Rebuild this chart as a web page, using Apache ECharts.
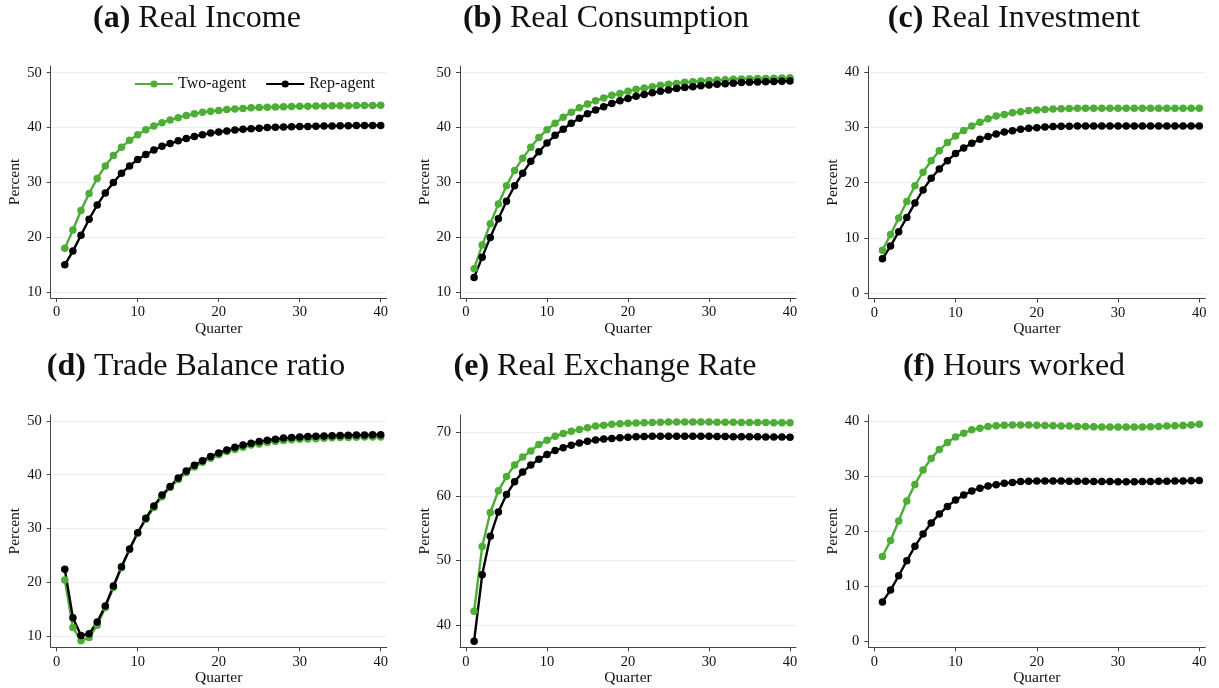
<!DOCTYPE html>
<html><head><meta charset="utf-8">
<script src="https://cdn.jsdelivr.net/npm/echarts@6/dist/echarts.min.js"></script>
<style>html,body{margin:0;padding:0;background:#fff}#c{width:1219px;height:688px}</style>
</head><body><div id="c"></div>
<script>
const quarters = [1,2,3,4,5,6,7,8,9,10,11,12,13,14,15,16,17,18,19,20,21,22,23,24,25,26,27,28,29,30,31,32,33,34,35,36,37,38,39,40];
const seriesNames = ['Two-agent', 'Rep-agent'];
const panelTitles = [['(a)', 'Real Income'], ['(b)', 'Real Consumption'], ['(c)', 'Real Investment'],
                     ['(d)', 'Trade Balance ratio'], ['(e)', 'Real Exchange Rate'], ['(f)', 'Hours worked']];
const xTicks = [0, 10, 20, 30, 40];
const yTicksA = [10, 20, 30, 40, 50];
const yTicksB = [10, 20, 30, 40, 50];
const yTicksC = [0, 10, 20, 30, 40];
const yTicksD = [10, 20, 30, 40, 50];
const yTicksE = [40, 50, 60, 70];
const yTicksF = [0, 10, 20, 30, 40];

const incomeTwo = [18.0,21.35,24.9,28.0,30.75,33.0,34.9,36.4,37.7,38.7,39.6,40.3,40.9,41.4,41.8,42.2,42.5,42.8,43.0,43.1,43.3,43.4,43.5,43.6,43.65,43.7,43.75,43.8,43.85,43.9,43.9,43.93,43.95,43.97,44.0,44.0,44.02,44.03,44.04,44.05];
const incomeRep = [15.0,17.5,20.4,23.3,25.9,28.1,30.0,31.7,33.0,34.2,35.1,35.9,36.6,37.1,37.6,38.0,38.4,38.7,39.0,39.2,39.4,39.55,39.7,39.8,39.9,40.0,40.05,40.1,40.15,40.2,40.22,40.25,40.28,40.3,40.32,40.34,40.36,40.37,40.38,40.4];
const consTwo = [14.3,18.6,22.5,26.1,29.4,32.2,34.4,36.4,38.2,39.6,40.8,41.9,42.8,43.6,44.3,44.9,45.4,45.9,46.2,46.6,47.0,47.2,47.45,47.7,47.9,48.05,48.25,48.35,48.5,48.6,48.65,48.7,48.8,48.85,48.9,48.93,48.96,49.0,49.03,49.06];
const consRep = [12.7,16.4,20.0,23.4,26.6,29.4,31.7,33.85,35.6,37.2,38.6,39.7,40.8,41.7,42.5,43.2,43.8,44.4,44.9,45.3,45.7,46.05,46.35,46.6,46.85,47.1,47.3,47.45,47.6,47.75,47.9,48.0,48.1,48.2,48.25,48.3,48.35,48.4,48.45,48.5];
const invTwo = [7.75,10.6,13.6,16.6,19.45,21.9,24.0,25.8,27.3,28.5,29.5,30.3,31.0,31.6,32.1,32.4,32.7,32.9,33.1,33.2,33.3,33.4,33.45,33.47,33.5,33.5,33.5,33.5,33.5,33.5,33.5,33.5,33.5,33.5,33.5,33.5,33.5,33.5,33.5,33.5];
const invRep = [6.2,8.5,11.1,13.7,16.3,18.7,20.8,22.5,24.0,25.3,26.3,27.15,27.9,28.4,28.85,29.2,29.45,29.7,29.9,30.0,30.1,30.2,30.25,30.27,30.3,30.3,30.3,30.3,30.3,30.3,30.3,30.3,30.3,30.3,30.3,30.3,30.3,30.3,30.3,30.3];
const tbTwo = [20.4,11.6,9.1,9.7,12.0,15.3,19.0,22.7,26.1,29.1,31.7,33.9,35.9,37.6,39.1,40.4,41.45,42.3,43.05,43.7,44.3,44.7,45.1,45.5,45.7,46.0,46.15,46.35,46.5,46.6,46.65,46.7,46.78,46.85,46.9,46.93,46.96,47.0,47.0,47.02];
const tbRep = [22.4,13.4,10.1,10.4,12.6,15.6,19.3,22.9,26.2,29.2,31.9,34.2,36.2,37.8,39.4,40.7,41.75,42.6,43.4,44.05,44.6,45.1,45.5,45.85,46.15,46.4,46.6,46.8,46.9,47.0,47.1,47.15,47.2,47.25,47.3,47.33,47.36,47.4,47.42,47.45];
const rerTwo = [42.1,52.2,57.5,60.9,63.1,64.9,66.15,67.1,68.1,68.75,69.4,69.8,70.15,70.45,70.7,71.0,71.1,71.25,71.35,71.4,71.45,71.5,71.55,71.57,71.6,71.6,71.6,71.6,71.6,71.6,71.58,71.57,71.56,71.55,71.54,71.53,71.52,71.51,71.5,71.5];
const rerRep = [37.45,47.8,53.8,57.6,60.3,62.3,63.8,64.9,65.8,66.55,67.15,67.6,68.0,68.35,68.6,68.8,68.95,69.05,69.15,69.25,69.3,69.35,69.37,69.4,69.4,69.4,69.4,69.4,69.4,69.38,69.36,69.35,69.33,69.32,69.3,69.3,69.29,69.28,69.27,69.25];
const hoursTwo = [15.4,18.3,21.85,25.5,28.5,31.1,33.2,34.85,36.1,37.1,37.8,38.4,38.7,39.0,39.15,39.25,39.3,39.3,39.27,39.22,39.18,39.15,39.12,39.08,39.02,38.99,38.96,38.93,38.9,38.9,38.9,38.93,38.93,38.96,39.02,39.08,39.14,39.2,39.3,39.4];
const hoursRep = [7.15,9.3,11.9,14.65,17.25,19.5,21.5,23.1,24.5,25.65,26.55,27.3,27.8,28.2,28.45,28.7,28.85,29.0,29.05,29.1,29.1,29.1,29.1,29.08,29.05,29.05,29.02,29.0,29.0,28.98,28.98,28.98,29.0,29.0,29.05,29.08,29.1,29.13,29.16,29.2];

const panelData = [
  [incomeTwo, incomeRep, yTicksA],
  [consTwo, consRep, yTicksB],
  [invTwo, invRep, yTicksC],
  [tbTwo, tbRep, yTicksD],
  [rerTwo, rerRep, yTicksE],
  [hoursTwo, hoursRep, yTicksF]
];

// layout (pixels) and axis extents
const layout = [
  {left: 50.7, top: 66, width: 336, height: 232, ymin: 8.96, ymax: 51.22, tx: 197, ty: 19},
  {left: 460, top: 66, width: 336, height: 232, ymin: 8.96, ymax: 51.22, tx: 606, ty: 19},
  {left: 868.3, top: 66.5, width: 337, height: 232, ymin: -1.02, ymax: 41.1, tx: 1014, ty: 19},
  {left: 50.7, top: 415, width: 336, height: 232.3, ymin: 7.9, ymax: 51.1, tx: 196, ty: 367},
  {left: 460, top: 415, width: 336, height: 232.3, ymin: 36.5, ymax: 72.7, tx: 605, ty: 367},
  {left: 868.3, top: 415, width: 337, height: 232.3, ymin: -1.09, ymax: 41.1, tx: 1014, ty: 367}
];

const FONT = '"Liberation Serif", "Times New Roman", serif';
const GREEN = '#4dad36';
const BLACK = '#000000';
const AXIS = '#444444';
const GRIDC = '#e9efef';

const grids = [], xAxes = [], yAxes = [], series = [], graphics = [];
layout.forEach((L, i) => {
  const [two, rep, yTicks] = panelData[i];
  grids.push({left: L.left, top: L.top, width: L.width, height: L.height, containLabel: false});
  xAxes.push({
    type: 'value', gridIndex: i, min: -0.74, max: 40.74,
    name: 'Quarter', nameLocation: 'middle', nameGap: 20,
    nameTextStyle: {fontFamily: FONT, fontSize: 15.5, color: '#111'},
    axisLine: {show: true, onZero: false, lineStyle: {color: AXIS, width: 1}},
    axisTick: {show: true, inside: false, length: 4, customValues: xTicks, lineStyle: {color: AXIS}},
    axisLabel: {show: true, margin: 7, customValues: xTicks, fontFamily: FONT, fontSize: 14.5, color: '#111'},
    splitLine: {show: false}
  });
  yAxes.push({
    type: 'value', gridIndex: i, min: L.ymin, max: L.ymax,
    name: 'Percent', nameLocation: 'middle', nameGap: 27, nameRotate: 90,
    nameTextStyle: {fontFamily: FONT, fontSize: 15.5, color: '#111'},
    axisLine: {show: true, onZero: false, lineStyle: {color: AXIS, width: 1}},
    axisTick: {show: true, inside: false, length: 4, customValues: yTicks, lineStyle: {color: AXIS}},
    axisLabel: {show: true, margin: 9, customValues: yTicks, fontFamily: FONT, fontSize: 14.5, color: '#111'},
    splitLine: {show: true, lineStyle: {color: GRIDC, width: 1}}
  });
  [[two, seriesNames[0], GREEN], [rep, seriesNames[1], BLACK]].forEach(([arr, name, col]) => {
    series.push({
      type: 'line', name: name, xAxisIndex: i, yAxisIndex: i,
      data: quarters.map((q, k) => [q, arr[k]]),
      symbol: 'circle', symbolSize: 7.5, showSymbol: true,
      lineStyle: {color: col, width: 2.4},
      itemStyle: {color: col, borderWidth: 0},
      emphasis: {disabled: true}
    });
  });
  graphics.push({
    type: 'text', x: L.tx, y: L.ty,
    style: {
      text: '{b|' + panelTitles[i][0] + '} ' + panelTitles[i][1],
      align: 'center', verticalAlign: 'middle',
      fontFamily: FONT, fontSize: 32, fill: '#111',
      rich: {b: {fontFamily: FONT, fontSize: 32, fontWeight: 'bold', fill: '#111'}}
    }
  });
});

const chart = echarts.init(document.getElementById('c'), null, {renderer: 'canvas'});
chart.setOption({
  animation: false,
  backgroundColor: '#fff',
  grid: grids, xAxis: xAxes, yAxis: yAxes, series: series,
  graphic: graphics,
  legend: {
    data: seriesNames, left: 134, top: 76, padding: 0, itemGap: 19, itemWidth: 38, itemHeight: 9,
    textStyle: {fontFamily: FONT, fontSize: 16, color: '#111'},
    selectedMode: false
  }
});
</script></body></html>
